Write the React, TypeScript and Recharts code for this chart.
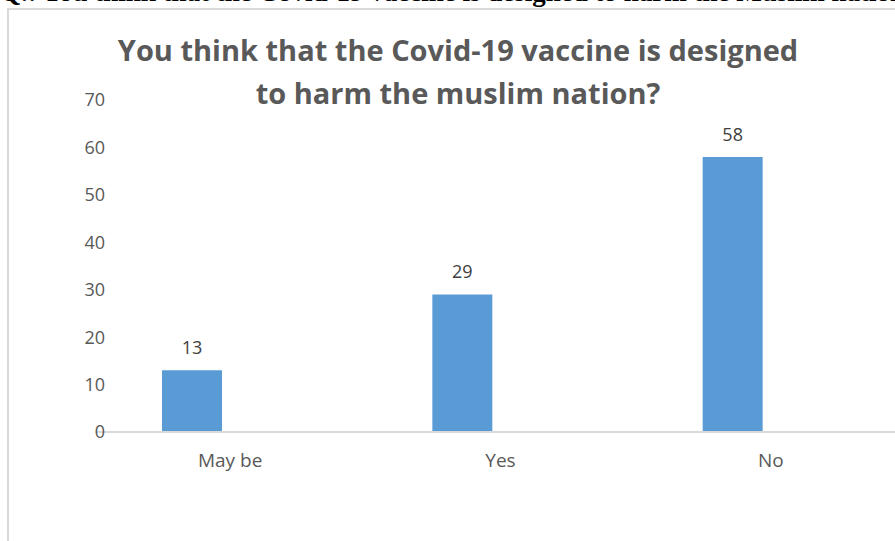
import React from "react";
import { BarChart, Bar, XAxis, YAxis, LabelList } from "recharts";

const categories = ["May be", "Yes", "No"];
const values = [13, 29, 58];
const yTicks = [0, 10, 20, 30, 40, 50, 60, 70];
const titleLines = [
  "You think that the Covid-19 vaccine is designed",
  "to harm the muslim nation?",
];
const headerText = "Q.: You think that the Covid-19 vaccine is designed to harm the Muslim nation?";

const data = categories.map((c, i) => ({ name: c, value: values[i] }));

export default function App() {
  return (
    <div
      style={{
        position: "absolute",
        left: 0,
        top: 0,
        width: 895,
        height: 541,
        overflow: "hidden",
        background: "#fff",
      }}
    >
      <div
        style={{
          position: "absolute",
          left: 0,
          top: -22,
          whiteSpace: "nowrap",
          fontFamily: "'Liberation Serif', 'Times New Roman', serif",
          fontWeight: "bold",
          fontSize: 27,
          color: "#000",
          lineHeight: "28px",
        }}
      >
        {headerText}
      </div>
      <div
        style={{
          position: "absolute",
          left: 7,
          top: 8,
          width: 1000,
          height: 700,
          border: "2px solid #d9d9d9",
        }}
      />
      <div
        style={{
          position: "absolute",
          left: 20,
          top: 28,
          width: 876,
          textAlign: "center",
          fontFamily: "'Open Sans', sans-serif",
          fontWeight: "bold",
          fontSize: 29,
          lineHeight: "43px",
          color: "#595959",
        }}
      >
        {titleLines.map((t) => (
          <div key={t}>{t}</div>
        ))}
      </div>
      <div style={{ position: "absolute", left: 0, top: 0 }}>
        <BarChart
          width={895}
          height={541}
          data={data}
          margin={{ top: 100, right: 0, bottom: 59, left: 0 }}
          barSize={60}
        >
          <XAxis
            dataKey="name"
            height={50}
            padding={{ left: -38, right: 27 }}
            axisLine={{ stroke: "#d9d9d9", strokeWidth: 2 }}
            tickLine={false}
            tickSize={0}
            tickMargin={22}
            tick={{ fill: "#595959", fontSize: 19, dx: 38, fontFamily: "'Open Sans', sans-serif" }}
          />
          <YAxis
            width={95}
            domain={[0, 70]}
            ticks={yTicks}
            interval={0}
            axisLine={false}
            tickLine={false}
            tickSize={0}
            tickMargin={5}
            tick={{ fill: "#595959", fontSize: 18, dx: 15, fontFamily: "'Open Sans', sans-serif" }}
          />
          <Bar dataKey="value" fill="#5b9bd5" isAnimationActive={false}>
            <LabelList
              dataKey="value"
              position="top"
              offset={16}
              fill="#404040"
              fontSize={18}
              fontFamily="'Open Sans', sans-serif"
            />
          </Bar>
        </BarChart>
      </div>
    </div>
  );
}
